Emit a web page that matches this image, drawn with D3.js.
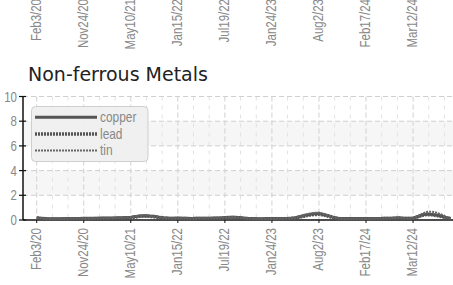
<!DOCTYPE html>
<html>
<head>
<meta charset="utf-8">
<script src="https://cdn.jsdelivr.net/npm/d3@7"></script>
<style>
  html, body { margin: 0; padding: 0; background: #fff; }
  svg { display: block; }
  .cond { font-family: "Liberation Sans", Arial, sans-serif; }
</style>
</head>
<body>
<svg id="chart" width="453" height="285"></svg>
<script>
// ---------------- data ----------------
const title = "Non-ferrous Metals";
const categories = [
  "Feb3/20","Mar4/20","Apr2/20","May1/20","Jun1/20","Jun30/20","Jul29/20","Aug27/20","Sep25/20","Oct26/20",
  "Nov24/20","Dec11/20","Dec28/20","Jan14/21","Jan31/21","Feb16/21","Mar5/21","Mar22/21","Apr8/21","Apr24/21",
  "May10/21","Jun4/21","Jun29/21","Jul24/21","Aug18/21","Sep12/21","Oct7/21","Nov1/21","Nov26/21","Dec21/21",
  "Jan15/22","Feb2/22","Feb21/22","Mar11/22","Mar30/22","Apr17/22","May6/22","May24/22","Jun12/22","Jun30/22",
  "Jul19/22","Aug7/22","Aug26/22","Sep13/22","Oct2/22","Oct21/22","Nov9/22","Nov28/22","Dec17/22","Jan5/23",
  "Jan24/23","Feb12/23","Mar3/23","Mar22/23","Apr10/23","Apr29/23","May18/23","Jun6/23","Jun25/23","Jul14/23",
  "Aug2/23","Aug22/23","Sep11/23","Oct1/23","Oct21/23","Nov10/23","Nov30/23","Dec20/23","Jan8/24","Jan28/24",
  "Feb17/24","Feb19/24","Feb22/24","Feb24/24","Feb26/24","Feb29/24","Mar2/24","Mar5/24","Mar7/24","Mar10/24",
  "Mar12/24","Mar14/24","Mar17/24","Mar19/24","Mar21/24","Mar24/24","Mar26/24","Mar28/24","Mar31/24"
];
const tickLabels = ["Feb3/20","Nov24/20","May10/21","Jan15/22","Jul19/22","Jan24/23","Aug2/23","Feb17/24","Mar12/24"];
const yTicks = [0, 2, 4, 6, 8, 10];
const seriesNames = ["copper", "lead", "tin"];
const copper = [
  0.18,0.15,0.12,0.10,0.10,0.11,0.12,0.12,0.13,0.13,
  0.14,0.14,0.15,0.15,0.16,0.16,0.17,0.18,0.18,0.20,
  0.22,0.28,0.32,0.35,0.32,0.30,0.22,0.18,0.16,0.15,
  0.16,0.15,0.14,0.13,0.14,0.15,0.14,0.15,0.16,0.17,
  0.20,0.22,0.22,0.20,0.16,0.13,0.12,0.11,0.11,0.12,
  0.12,0.12,0.12,0.13,0.14,0.18,0.28,0.38,0.45,0.50,
  0.52,0.45,0.35,0.22,0.15,0.12,0.12,0.12,0.12,0.12,
  0.12,0.12,0.13,0.13,0.14,0.15,0.16,0.18,0.15,0.14,
  0.15,0.28,0.42,0.48,0.45,0.40,0.32,0.20,0.12
];
const lead = [
  0.15,0.10,0.08,0.07,0.08,0.08,0.09,0.09,0.10,0.10,
  0.10,0.11,0.11,0.12,0.12,0.12,0.13,0.13,0.14,0.15,
  0.18,0.24,0.30,0.32,0.30,0.26,0.20,0.15,0.13,0.12,
  0.12,0.12,0.11,0.11,0.12,0.12,0.12,0.13,0.14,0.15,
  0.17,0.19,0.20,0.18,0.14,0.11,0.10,0.09,0.09,0.10,
  0.10,0.10,0.10,0.11,0.12,0.16,0.24,0.32,0.40,0.44,
  0.46,0.40,0.30,0.18,0.12,0.10,0.10,0.10,0.10,0.10,
  0.10,0.10,0.11,0.11,0.12,0.12,0.14,0.15,0.13,0.12,
  0.13,0.25,0.38,0.45,0.42,0.36,0.28,0.18,0.10
];
const tin = [
  0.20,0.14,0.10,0.09,0.10,0.10,0.11,0.12,0.12,0.12,
  0.12,0.13,0.13,0.14,0.14,0.15,0.16,0.17,0.18,0.20,
  0.24,0.30,0.36,0.38,0.34,0.30,0.22,0.17,0.15,0.14,
  0.14,0.14,0.13,0.13,0.13,0.14,0.14,0.15,0.16,0.18,
  0.21,0.24,0.24,0.21,0.16,0.12,0.11,0.10,0.10,0.11,
  0.11,0.11,0.12,0.12,0.14,0.20,0.30,0.42,0.52,0.58,
  0.60,0.50,0.36,0.22,0.14,0.11,0.11,0.11,0.11,0.11,
  0.11,0.11,0.12,0.12,0.13,0.14,0.16,0.18,0.15,0.13,
  0.15,0.32,0.52,0.66,0.68,0.60,0.45,0.26,0.12
];
const seriesValues = [copper, lead, tin];

// ---------------- layout ----------------
const svg = d3.select("#chart");
const plotLeft = 23, plotRight = 460, plotTop = 96.5, plotBottom = 220;
const x = d3.scalePoint().domain(categories).range([36.7, 450.7]);
const y = d3.scaleLinear().domain([0, 10]).range([plotBottom, plotTop]);
const tickEvery = 10;
const narrow = 0.82;

// bands
const bands = [[2, 4], [6, 8]];
svg.append("g").selectAll("rect").data(bands).join("rect")
  .attr("x", plotLeft).attr("width", plotRight - plotLeft)
  .attr("y", d => y(d[1])).attr("height", d => y(d[0]) - y(d[1]))
  .attr("fill", "#f6f6f6");

// minor vertical grid
const step = x.step();
const minorPos = [];
for (let k = -1; k < 30; k++) {
  const px = x(categories[0]) + k * step * tickEvery / 3;
  if (k % 3 !== 0 && px > plotLeft + 1 && px < plotRight) minorPos.push(px);
}
svg.append("g").selectAll("line").data(minorPos).join("line")
  .attr("x1", d => d).attr("x2", d => d).attr("y1", plotTop).attr("y2", plotBottom)
  .attr("stroke", "#e2e2e2").attr("stroke-width", 1).attr("stroke-dasharray", "4,5");

// major vertical grid
svg.append("g").selectAll("line").data(tickLabels).join("line")
  .attr("x1", d => x(d)).attr("x2", d => x(d)).attr("y1", plotTop).attr("y2", plotBottom)
  .attr("stroke", "#d0d0d0").attr("stroke-width", 1).attr("stroke-dasharray", "5,3");

// horizontal grid
svg.append("g").selectAll("line").data(yTicks.filter(v => v > 0)).join("line")
  .attr("x1", plotLeft).attr("x2", plotRight).attr("y1", d => y(d)).attr("y2", d => y(d))
  .attr("stroke", "#d0d0d0").attr("stroke-width", 1).attr("stroke-dasharray", "5,3");

// y axis
svg.append("line").attr("x1", plotLeft).attr("x2", plotLeft)
  .attr("y1", plotTop).attr("y2", plotBottom).attr("stroke", "#111").attr("stroke-width", 1.5);
svg.append("g").selectAll("line").data(yTicks).join("line")
  .attr("x1", plotLeft - 4).attr("x2", plotLeft + 3).attr("y1", d => y(d)).attr("y2", d => y(d))
  .attr("stroke", "#111").attr("stroke-width", 1.2);
svg.append("g").selectAll("text").data(yTicks).join("text")
  .attr("class", "cond")
  .attr("transform", d => `translate(${plotLeft - 6},${y(d)}) scale(${narrow},1)`)
  .attr("text-anchor", "end").attr("dy", "0.36em")
  .attr("font-size", 14).attr("fill", "#888").text(d => d);

// x axis
svg.append("line").attr("x1", plotLeft).attr("x2", plotRight)
  .attr("y1", plotBottom).attr("y2", plotBottom).attr("stroke", "#111").attr("stroke-width", 1.5);

function xLabels(yEnd) {
  svg.append("g").selectAll("text").data(tickLabels).join("text")
    .attr("class", "cond")
    .attr("transform", d => `translate(${x(d) - 1},${yEnd}) rotate(-90) scale(${narrow},1)`)
    .attr("text-anchor", "end").attr("dy", "0.36em")
    .attr("font-size", 14).attr("fill", "#888")
    .text(d => d);
}
xLabels(228);
xLabels(-1); // tail of the chart above

// x tick marks
svg.append("g").selectAll("line").data(tickLabels).join("line")
  .attr("x1", d => x(d)).attr("x2", d => x(d)).attr("y1", plotBottom).attr("y2", plotBottom + 3)
  .attr("stroke", "#111").attr("stroke-width", 1);

// lines
const styles = [
  { w: 3, dash: null, color: "#555" },
  { w: 3.5, dash: "2,1", color: "#555" },
  { w: 2, dash: "2,1", color: "#666" }
];
const line = d3.line().x((d, i) => x(categories[i])).y(d => y(d));
svg.append("g").selectAll("path").data(seriesValues).join("path")
  .attr("d", d => line(d)).attr("fill", "none")
  .attr("stroke", (d, i) => styles[i].color)
  .attr("stroke-width", (d, i) => styles[i].w)
  .attr("stroke-dasharray", (d, i) => styles[i].dash);

// title
svg.append("text").attr("x", 28).attr("y", 81)
  .attr("font-family", "DejaVu Sans, sans-serif").attr("font-size", 19).attr("fill", "#222")
  .text(title);

// legend
const lg = svg.append("g");
lg.append("rect").attr("x", 31.5).attr("y", 106.5).attr("width", 116.5).attr("height", 55)
  .attr("rx", 4).attr("fill", "#efefef").attr("fill-opacity", 0.95).attr("stroke", "#cfcfcf");
const ly = d3.scalePoint().domain(seriesNames).range([117.3, 150.5]);
lg.selectAll("line").data(seriesNames).join("line")
  .attr("x1", 35).attr("x2", 97).attr("y1", d => ly(d)).attr("y2", d => ly(d))
  .attr("stroke", (d, i) => styles[i].color)
  .attr("stroke-width", (d, i) => styles[i].w)
  .attr("stroke-dasharray", (d, i) => styles[i].dash);
lg.selectAll("text").data(seriesNames).join("text")
  .attr("class", "cond")
  .attr("transform", d => `translate(100,${ly(d)}) scale(0.85,1)`)
  .attr("dy", "0.35em")
  .attr("font-size", 14).attr("fill", "#888").text(d => d);
</script>
</body>
</html>
